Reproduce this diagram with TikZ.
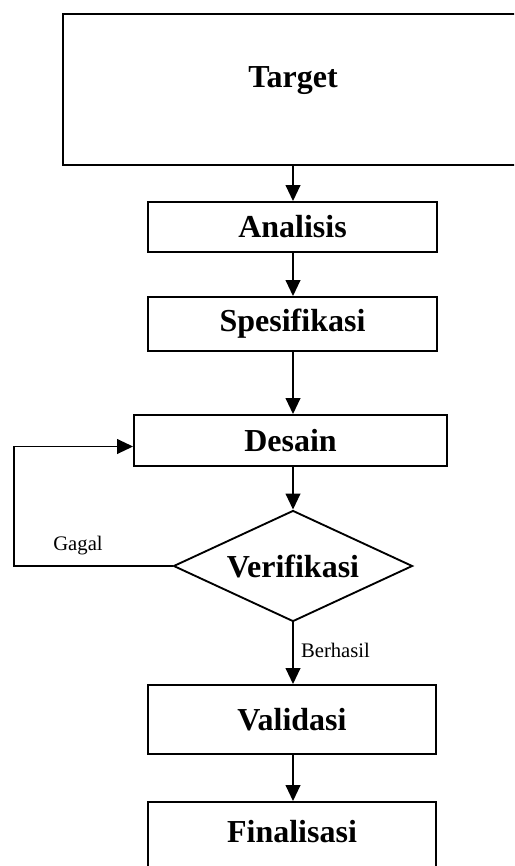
\documentclass[tikz,border=0pt]{standalone}
\usepackage{fontspec}
\setmainfont{Liberation Serif}
\usetikzlibrary{shapes.geometric, arrows.meta}

\begin{document}
\begin{tikzpicture}[x=0.75pt, y=-0.75pt,
                    box/.style={draw, line width=1.4pt, inner sep=0pt,
                                font=\fontsize{24}{28}\selectfont\bfseries},
                    flow/.style={line width=1.4pt, -{Triangle[length=12pt, width=11pt]}},
                    note/.style={font=\fontsize{15.5}{18}\selectfont}]
                    \useasboundingbox (0,0) rectangle (514,866);
                    \clip (0,0) rectangle (514,866);
                    % kotak proses
                    \node[box, minimum width=405pt, minimum height=113.25pt] (target) at (333,89.5) {};
                    \node[font=\fontsize{24}{28}\selectfont\bfseries] (targettext) at (293,81) {Target};
                    \node[box, minimum width=216.75pt, minimum height=37.5pt] (analisis) at (292.5,227) {Analisis};
                    \node[box, minimum width=216.75pt, minimum height=40.5pt] (spesifikasi) at (292.5,324) {Spesifikasi};
                    \node[box, minimum width=234.75pt, minimum height=38.25pt] (desain) at (290.5,440.5) {Desain};
                    \node[box, diamond, aspect=2.15, minimum width=179.25pt, minimum height=83.25pt] (verifikasi) at (293,566) {Verifikasi};
                    \node[box, minimum width=216pt, minimum height=51.75pt] (validasi) at (292,719.5) {Validasi};
                    \node[box, minimum width=216pt, minimum height=66pt, text depth=22pt] (finalisasi) at (292,846) {Finalisasi};
                    \coordinate (gagalturn) at (14,566);
                    % panah
                    \draw[flow] (target.south -| verifikasi) -- (analisis.north -| verifikasi);
                    \draw[flow] (analisis.south -| verifikasi) -- (spesifikasi.north -| verifikasi);
                    \draw[flow] (spesifikasi.south -| verifikasi) -- (desain.north -| verifikasi);
                    \draw[flow] (desain.south -| verifikasi) -- (verifikasi.north);
                    \draw[flow] (verifikasi.south) -- (validasi.north -| verifikasi)
                        node[note, pos=0.45, right=2pt] (berhasil) {Berhasil};
                    \draw[flow] (validasi.south -| verifikasi) -- (finalisasi.north -| verifikasi);
                    \draw[flow] (verifikasi.west) -- (gagalturn) |- ([yshift=-4.5pt]desain.west);
                    \node[note] (gagal) at (78,546) {Gagal};
                \end{tikzpicture}
\end{document}
